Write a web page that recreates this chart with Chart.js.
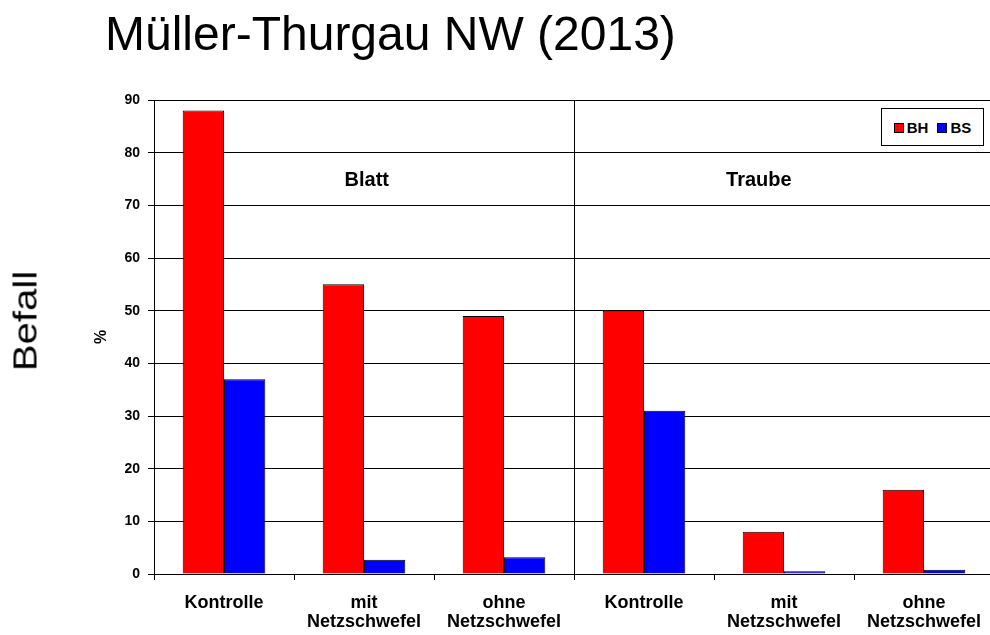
<!DOCTYPE html>
<html lang="de">
<head>
<meta charset="utf-8" />
<title>Müller-Thurgau NW (2013)</title>
<script src="https://cdn.jsdelivr.net/npm/chart.js@4.4.1/dist/chart.umd.min.js"></script>
<style>
  html,body{margin:0;padding:0;background:#fff;overflow:hidden;width:990px;height:635px;}
  .stage{position:relative;width:1000px;height:635px;font-family:"Liberation Sans",Arial,sans-serif;}
  canvas{position:absolute;left:0;top:0;}
  .title{position:absolute;left:105px;top:6px;font-size:48px;color:#000;white-space:nowrap;}
  .side{position:absolute;left:25px;top:321px;font-size:34px;transform:translate(-50%,-50%) rotate(-90deg) scaleX(1.18);white-space:nowrap;}
  .legend{position:absolute;left:881px;top:108px;width:101px;height:36px;border:1px solid #000;background:#fff;
    display:flex;align-items:center;justify-content:center;gap:9px;font-weight:bold;font-size:15px;}
  .legend span i{display:inline-block;width:8px;height:8px;border:1px solid #000;margin-right:3px;vertical-align:0px;}
</style>
</head>
<body>
<div class="stage">
  <canvas id="chart" width="1000" height="635"></canvas>
  <div class="title">Müller-Thurgau NW (2013)</div>
  <div class="side">Befall</div>
  <div class="legend" id="legend"></div>
</div>
<script>
// categories (two lines each where the original wraps)
const CATEGORIES = [
  'Kontrolle', ['mit', 'Netzschwefel'], ['ohne', 'Netzschwefel'],
  'Kontrolle', ['mit', 'Netzschwefel'], ['ohne', 'Netzschwefel'],
];
const SERIES = ['BH', 'BS'];
const BH = [88, 55, 49, 50, 8, 16];
const BS = [37, 2.7, 3.2, 31, 0.5, 0.8];
const COLORS = ['#ff0000', '#0000ff'];
const Y_TICKS = [0, 10, 20, 30, 40, 50, 60, 70, 80, 90];
// group headings: name, x position (category index), y value
const GROUPS = ['Blatt', 'Traube'];
const GROUP_X = [1.02, 3.82];
const GROUP_Y = [74.7, 74.7];

const FONT = '"Liberation Sans", Arial, sans-serif';
Chart.defaults.font.family = FONT;
Chart.defaults.color = '#000';

document.getElementById('legend').innerHTML = SERIES
  .map((s, i) => `<span><i style="background:${COLORS[i]}"></i>${s}</span>`).join('');

const groupPlugin = {
  id: 'groups',
  afterDatasetsDraw(chart) {
    const { ctx, chartArea, scales: { x, y } } = chart;
    const mid = (x.getPixelForValue(2) + x.getPixelForValue(3)) / 2;
    ctx.save();
    ctx.strokeStyle = '#000';
    ctx.lineWidth = 1;
    ctx.beginPath();
    ctx.moveTo(Math.round(mid) + 0.5, chartArea.top);
    ctx.lineTo(Math.round(mid) + 0.5, chartArea.bottom);
    ctx.stroke();
    ctx.fillStyle = '#000';
    ctx.font = 'bold 20px ' + FONT;
    ctx.textAlign = 'center';
    ctx.textBaseline = 'middle';
    GROUPS.forEach((g, i) => {
      const px = x.getPixelForValue(0) + GROUP_X[i] * (x.getPixelForValue(1) - x.getPixelForValue(0));
      ctx.fillText(g, px, y.getPixelForValue(GROUP_Y[i]));
    });
    ctx.restore();
  }
};

new Chart(document.getElementById('chart'), {
  type: 'bar',
  data: {
    labels: CATEGORIES,
    datasets: [BH, BS].map((d, i) => ({
      label: SERIES[i], data: d, backgroundColor: COLORS[i],
      borderColor: '#000', borderWidth: 1,
      categoryPercentage: 0.59, barPercentage: 1,
    })),
  },
  options: {
    responsive: false,
    animation: false,
    layout: { padding: { left: 92, top: 100, right: 6, bottom: 0 } },
    plugins: { legend: { display: false }, tooltip: { enabled: false } },
    scales: {
      x: {
        grid: { display: true, drawOnChartArea: false, drawTicks: true, tickLength: 6, offset: true, color: '#000' },
        border: { color: '#000' },
        ticks: { font: { size: 18, weight: 'bold', lineHeight: 1.05 }, padding: 14, maxRotation: 0, autoSkip: false },
        afterFit(s) { s.height = 61; },
      },
      y: {
        min: 0, max: 90,
        afterBuildTicks(s) { s.ticks = Y_TICKS.map(v => ({ value: v })); },
        grid: { color: '#000', tickLength: 6 },
        border: { color: '#000' },
        ticks: { font: { size: 14, weight: 'bold' }, padding: 8 },
        title: { display: true, text: '%', font: { size: 16, weight: 'bold' }, padding: 0 },
        afterFit(s) { s.width = 62; },
      },
    },
  },
  plugins: [groupPlugin],
});
</script>
</body>
</html>
